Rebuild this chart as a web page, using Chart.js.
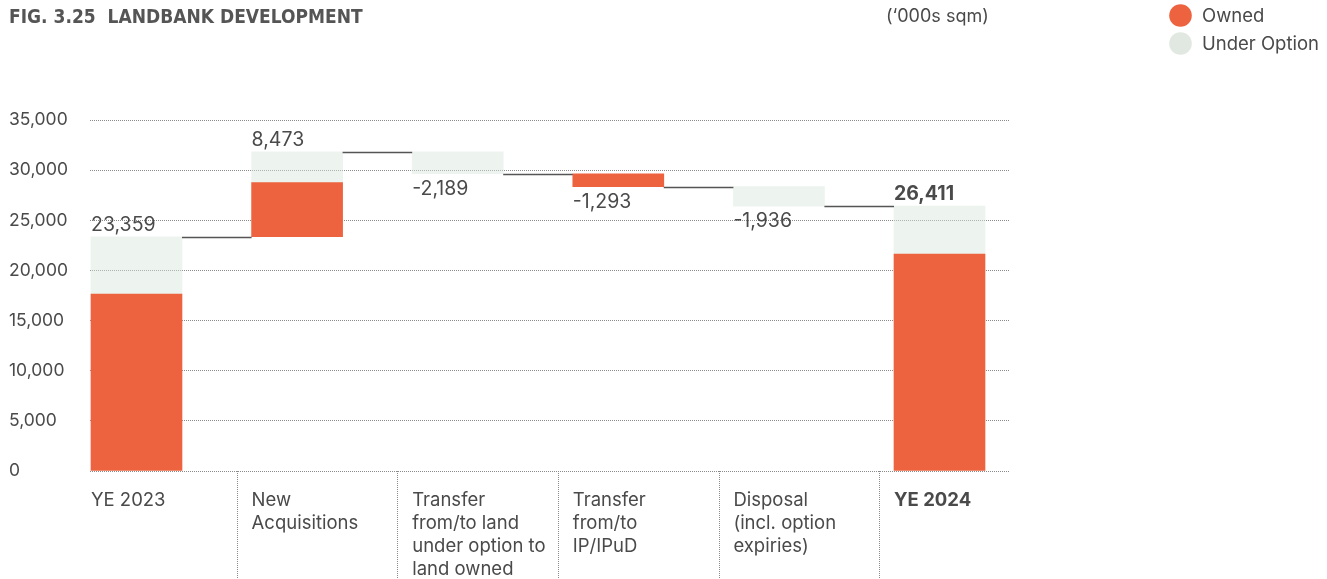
<!DOCTYPE html>
<html>
<head>
<meta charset="utf-8">
<script src="https://cdn.jsdelivr.net/npm/chart.js@4.4.1/dist/chart.umd.min.js"></script>
<style>
html, body { margin: 0; padding: 0; background: #fff; }
#wrap { width: 1327px; height: 579px; }
</style>
</head>
<body>
<div id="wrap"><canvas id="landbank"></canvas></div>
<script>
// data ('000s sqm)
var categories = [
    ['YE 2023'],
    ['New', 'Acquisitions'],
    ['Transfer', 'from/to land', 'under option to', 'land owned'],
    ['Transfer', 'from/to', 'IP/IPuD'],
    ['Disposal', '(incl. option', 'expiries)'],
    ['YE 2024']
];
var ownedValues  = [17630, 5400, 0, -1293, 0, 21620];
var optionValues = [5729, 3073, -2189, 0, -1936, 4791];
var isTotal      = [true, false, false, false, false, true];
var yTicks       = [0, 5000, 10000, 15000, 20000, 25000, 30000, 35000];

var ownedColor = '#ED633F';
var optionColor = 'rgba(214, 228, 218, 0.45)';
var legendOptionColor = '#E1E8E1';
var textColor = '#4a4a4a';
var fontFamily = 'Inter, "Open Sans", sans-serif';

// floating ranges for the waterfall
var ownedBars = [];
var optionBars = [];
var levels = [];
function buildRanges() {
    var running = 0;
    for (var i = 0; i < categories.length; i++) {
        var o = ownedValues[i];
        var p = optionValues[i];
        if (isTotal[i]) {
            ownedBars.push({x: i, y: [0, o]});
            optionBars.push({x: i, y: [o, o + p]});
            running = o + p;
        } else {
            var hi = running, lo = running;
            var ob = null, pb = null;
            if (o > 0) { ob = [hi, hi + o]; hi += o; }
            if (p > 0) { pb = [hi, hi + p]; hi += p; }
            if (p < 0) { pb = [lo + p, lo]; lo += p; }
            if (o < 0) { ob = [lo + o, lo]; lo += o; }
            ownedBars.push({x: i, y: ob});
            optionBars.push({x: i, y: pb});
            running = running + o + p;
        }
        levels.push(running);
    }
}
buildRanges();

var extras = {
    id: 'extras',
    afterDatasetsDraw: function(chart) {
        var ctx = chart.ctx;
        var xs = chart.scales.x, ys = chart.scales.y;
        var bw = chart.getDatasetMeta(0).data[0].width;
        ctx.save();
        // connectors
        ctx.strokeStyle = '#555';
        ctx.lineWidth = 1.5;
        for (var i = 0; i < categories.length - 1; i++) {
            var yl = Math.round(ys.getPixelForValue(levels[i])) + 0.5;
            ctx.beginPath();
            ctx.moveTo(xs.getPixelForValue(i) + bw / 2, yl);
            ctx.lineTo(xs.getPixelForValue(i + 1) - bw / 2, yl);
            ctx.stroke();
        }
        // value labels
        ctx.fillStyle = textColor;
        ctx.textAlign = 'left';
        ctx.textBaseline = 'alphabetic';
        for (var j = 0; j < categories.length; j++) {
            var vals = [];
            [ownedBars[j].y, optionBars[j].y].forEach(function(r) { if (r) { vals.push(r[0], r[1]); } });
            var total = ownedValues[j] + optionValues[j];
            var left = xs.getPixelForValue(j) - bw / 2;
            ctx.font = (j === categories.length - 1 ? '700 ' : '400 ') + '19.5px ' + fontFamily;
            if (total >= 0) {
                ctx.fillText(total.toLocaleString('en-US'), left, ys.getPixelForValue(Math.max.apply(null, vals)) - 6);
            } else {
                ctx.fillText(total.toLocaleString('en-US'), left, ys.getPixelForValue(Math.min.apply(null, vals)) + 21);
            }
        }
        ctx.restore();
    },
    afterDraw: function(chart) {
        var ctx = chart.ctx;
        var xs = chart.scales.x;
        var area = chart.chartArea;
        ctx.save();
        // category separators under the axis
        ctx.strokeStyle = '#8a8a8a';
        ctx.lineWidth = 1;
        ctx.setLineDash([1, 1]);
        for (var i = 1; i < categories.length; i++) {
            var xp = Math.round(xs.getPixelForValue(i - 0.376)) + 0.5;
            ctx.beginPath();
            ctx.moveTo(xp, area.bottom);
            ctx.lineTo(xp, chart.height);
            ctx.stroke();
        }
        ctx.setLineDash([]);
        // unit
        ctx.fillStyle = textColor;
        ctx.textBaseline = 'middle';
        ctx.textAlign = 'left';
        ctx.font = '400 18px ' + fontFamily;
        ctx.fillText('(\u2018000s sqm)', 886, 17);
        // legend
        var items = [
            {label: chart.data.datasets[0].label, color: ownedColor},
            {label: chart.data.datasets[1].label, color: legendOptionColor}
        ];
        ctx.font = '400 18.5px ' + fontFamily;
        items.forEach(function(it, k) {
            var cy = 15.5 + k * 28;
            ctx.fillStyle = it.color;
            ctx.beginPath();
            ctx.arc(1180.5, cy, 11.3, 0, Math.PI * 2);
            ctx.fill();
            ctx.fillStyle = textColor;
            ctx.fillText(it.label, 1202, cy + 1);
        });
        ctx.restore();
    }
};

var ctx = document.getElementById('landbank').getContext('2d');
var landbankChart = new Chart(ctx, {
    type: 'bar',
    data: {
        datasets: [{
            label: 'Owned',
            data: ownedBars,
            backgroundColor: ownedColor,
            barThickness: 91,
            grouped: false
        }, {
            label: 'Under Option',
            data: optionBars,
            backgroundColor: optionColor,
            barThickness: 91,
            grouped: false
        }]
    },
    options: {
        responsive: true,
        maintainAspectRatio: false,
        animation: false,
        layout: { padding: { left: 9, right: 317, top: 0, bottom: 0 } },
        plugins: {
            legend: { display: false },
            tooltip: { enabled: false },
            title: {
                display: true,
                text: 'FIG. 3.25  LANDBANK DEVELOPMENT',
                align: 'start',
                color: '#555',
                font: { family: '"DejaVu Sans Condensed", sans-serif', size: 19, weight: 'bold', lineHeight: 1.2 },
                padding: { top: 7, bottom: 90.2 }
            }
        },
        scales: {
            x: {
                type: 'linear',
                offset: false,
                min: -0.2895,
                max: 5.439,
                grid: { display: false },
                border: { display: false },
                afterFit: function(s) { s.height = 108; },
                ticks: {
                    stepSize: 1,
                    includeBounds: false,
                    autoSkip: false,
                    maxRotation: 0,
                    minRotation: 0,
                    align: 'start',
                    labelOffset: -45.5,
                    padding: 10,
                    color: textColor,
                    font: function(c) {
                        var last = c.tick && c.tick.value === categories.length - 1;
                        return { family: fontFamily, size: 18.5, weight: last ? '700' : '400', lineHeight: '23px' };
                    },
                    callback: function(v) { return categories[v] || ''; }
                }
            },
            y: {
                min: 0,
                max: 35000,
                afterFit: function(s) { s.width = 81; },
                afterBuildTicks: function(s) { s.ticks = yTicks.map(function(v) { return {value: v}; }); },
                border: { display: false, dash: [1, 1] },
                grid: {
                    color: '#8a8a8a',
                    lineWidth: 1,
                    drawTicks: false
                },
                ticks: {
                    crossAlign: 'far',
                    color: textColor,
                    font: { family: fontFamily, size: 17.5 },
                    callback: function(v) { return v.toLocaleString('en-US'); }
                }
            }
        }
    },
    plugins: [extras]
});
</script>
</body>
</html>
